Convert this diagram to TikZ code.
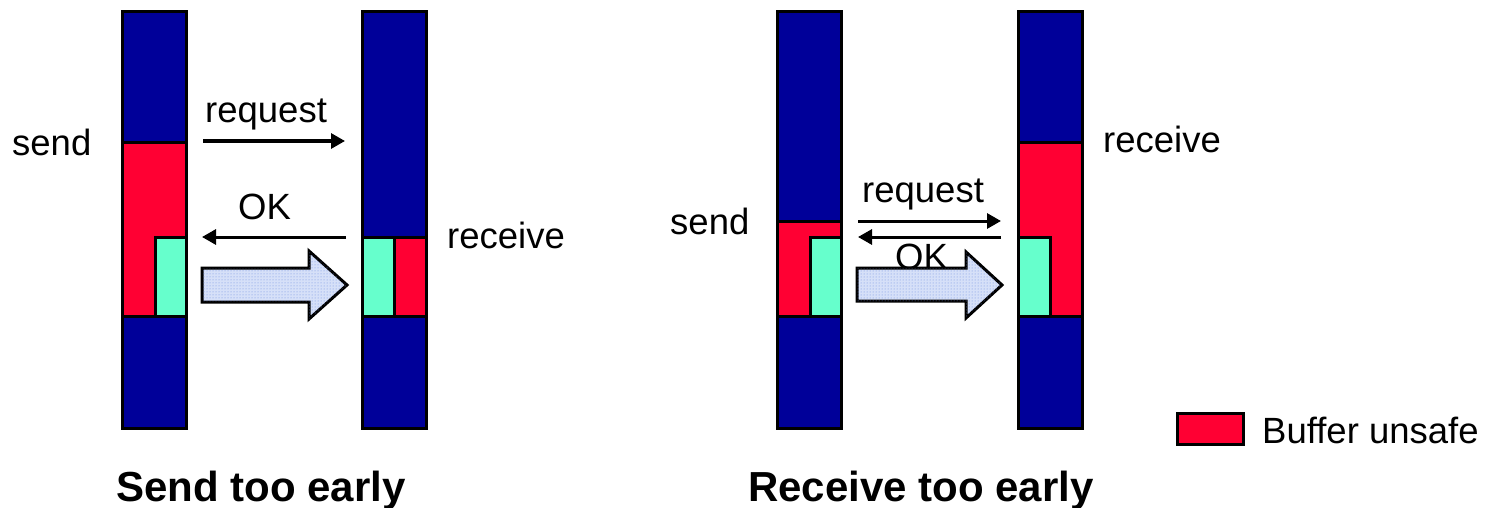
\documentclass[tikz,border=0pt]{standalone}
\usepackage{fontspec}
\setmainfont{Liberation Sans}
\usetikzlibrary{arrows.meta,patterns}
\definecolor{barblue}{RGB}{0,0,153}
\definecolor{bufred}{RGB}{255,0,51}
\definecolor{bufgreen}{RGB}{102,255,204}
\definecolor{arrfill}{RGB}{214,224,248}
\definecolor{arrdot}{RGB}{110,140,225}
\tikzset{
  bar/.style={draw=black,line width=3pt,fill=barblue},
  unsafe/.style={draw=black,line width=3pt,fill=bufred},
  data/.style={draw=black,line width=3pt,fill=bufgreen},
  lbl/.style={inner sep=0pt,anchor=base west,font=\fontsize{36.5}{40}\selectfont},
  ttl/.style={inner sep=0pt,anchor=base,font=\fontsize{42}{46}\selectfont\bfseries},
  msg/.style={line width=3pt,-{Triangle[length=14pt,width=15pt]}},
  bigarrow/.style={draw=black,line width=3pt,fill=arrfill,postaction={pattern=dots,pattern color=arrdot}}
}
\begin{document}
\begin{tikzpicture}[x=1pt,y=-1pt]
\useasboundingbox (0,0) rectangle (1493,508);
% ---------- left panel ----------
\draw[bar] (122,12) rectangle (186,428);
\draw[unsafe] (122,142) rectangle (186,316);
\draw[data] (155,237) rectangle (186,316);
\draw[bar] (362,12) rectangle (426,428);
\draw[data] (362,237) rectangle (394,316);
\draw[unsafe] (394,237) rectangle (426,316);
\node[lbl] (send1) at (12,155) {send};
\node[lbl] (req1) at (205,123) {request};
\node[lbl] (ok1) at (238,219) {OK};
\node[lbl] (rec1) at (447,248) {receive};
\coordinate (r1a) at (203,141);
\coordinate (r1b) at (345,141);
\coordinate (o1a) at (346,237);
\coordinate (o1b) at (202,237);
\draw[msg] (r1a) -- (r1b);
\draw[msg] (o1a) -- (o1b);
\draw[bigarrow] (202,268) -- (309,268) -- (309,251) -- (347,285) -- (309,319) -- (309,302) -- (202,302) -- cycle;
\node[ttl] (t1) at (261,501) {Send too early};
% ---------- right panel ----------
\draw[bar] (777,12) rectangle (841,428);
\draw[unsafe] (777,221) rectangle (841,316);
\draw[data] (810,237) rectangle (841,316);
\draw[bar] (1018,12) rectangle (1082,428);
\draw[unsafe] (1018,142) rectangle (1082,316);
\draw[data] (1018,237) rectangle (1050,316);
\node[lbl] (send2) at (670,234) {send};
\node[lbl] (req2) at (862,202) {request};
\node[lbl] (ok2) at (895,269) {OK};
\node[lbl] (rec2) at (1103,153) {receive};
\coordinate (r2a) at (858,221);
\coordinate (r2b) at (1001,221);
\coordinate (o2a) at (1001,237);
\coordinate (o2b) at (858,237);
\draw[msg] (r2a) -- (r2b);
\draw[msg] (o2a) -- (o2b);
\draw[bigarrow] (857,268) -- (966,268) -- (966,252) -- (1002,285) -- (966,318) -- (966,301) -- (857,301) -- cycle;
\node[ttl] (t2) at (921,501) {Receive too early};
% ---------- legend ----------
\draw[unsafe] (1177,413) rectangle (1243,444);
\node[lbl] (leg) at (1262,443) {Buffer unsafe};
\end{tikzpicture}
\end{document}
